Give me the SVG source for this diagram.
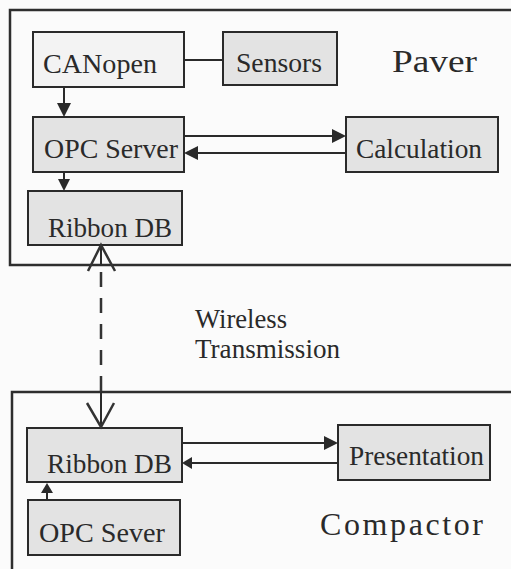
<svg xmlns="http://www.w3.org/2000/svg" width="511" height="569" viewBox="0 0 511 569">
<style>
.frame{fill:none;stroke:#2e2e2e;stroke-width:2.5}
.box{fill:#e3e3e3;stroke:#2a2a2a;stroke-width:2}
.light{fill:#f3f3f3}
.ln{fill:none;stroke:#2a2a2a;stroke-width:2}
.head{fill:#2a2a2a;stroke:none}
.dash{fill:none;stroke:#333;stroke-width:2.5;stroke-dasharray:15 11}
.open{fill:none;stroke:#333;stroke-width:2.5}
</style>
<rect width="511" height="569" fill="#fbfbfb"/>
<g id="paver">
<path class="frame" d="M515,10 L10,10 L10,265 L515,265"/>
<text font-family="Liberation Serif, serif" font-size="31" fill="#2a2a2a" x="392" y="72" textLength="85" lengthAdjust="spacingAndGlyphs">Paver</text>
</g>
<g id="compactor">
<path class="frame" d="M515,392 L12,392 L12,575"/>
<text font-family="Liberation Serif, serif" font-size="32" fill="#2a2a2a" x="320" y="535" textLength="163" lengthAdjust="spacing">Compactor</text>
</g>
<g id="canopen">
<rect class="box light" x="33" y="32" width="151" height="55"/>
<text font-family="Liberation Serif, serif" font-size="28" fill="#2a2a2a" x="43" y="73" textLength="114" lengthAdjust="spacingAndGlyphs">CANopen</text>
</g>
<g id="sensors">
<rect class="box" x="223" y="32" width="114" height="53"/>
<text font-family="Liberation Serif, serif" font-size="28" fill="#2a2a2a" x="236" y="72" textLength="86" lengthAdjust="spacingAndGlyphs">Sensors</text>
</g>
<g id="opc-server">
<rect class="box" x="33" y="117" width="151" height="55"/>
<text font-family="Liberation Serif, serif" font-size="28" fill="#2a2a2a" x="44" y="158" textLength="134" lengthAdjust="spacingAndGlyphs">OPC Server</text>
</g>
<g id="calculation">
<rect class="box" x="346" y="117" width="152" height="55"/>
<text font-family="Liberation Serif, serif" font-size="28" fill="#2a2a2a" x="356" y="158" textLength="126" lengthAdjust="spacingAndGlyphs">Calculation</text>
</g>
<g id="ribbon-db-paver">
<rect class="box" x="28" y="191" width="154" height="54"/>
<text font-family="Liberation Serif, serif" font-size="28" fill="#2a2a2a" x="48" y="237" textLength="124" lengthAdjust="spacingAndGlyphs">Ribbon DB</text>
</g>
<g id="ribbon-db-compactor">
<rect class="box" x="27" y="428" width="155" height="54"/>
<text font-family="Liberation Serif, serif" font-size="28" fill="#2a2a2a" x="47" y="473" textLength="125" lengthAdjust="spacingAndGlyphs">Ribbon DB</text>
</g>
<g id="presentation">
<rect class="box" x="338" y="425" width="152" height="55"/>
<text font-family="Liberation Serif, serif" font-size="28" fill="#2a2a2a" x="349" y="465" textLength="135" lengthAdjust="spacingAndGlyphs">Presentation</text>
</g>
<g id="opc-sever">
<rect class="box" x="28" y="500" width="152" height="55"/>
<text font-family="Liberation Serif, serif" font-size="28" fill="#2a2a2a" x="39" y="542" textLength="126" lengthAdjust="spacingAndGlyphs">OPC Sever</text>
</g>
<g id="wireless-label">
<text font-family="Liberation Serif, serif" font-size="26.5" fill="#2a2a2a" x="195" y="328" textLength="92" lengthAdjust="spacingAndGlyphs">Wireless</text>
<text font-family="Liberation Serif, serif" font-size="26.5" fill="#2a2a2a" x="195" y="358" textLength="145" lengthAdjust="spacingAndGlyphs">Transmission</text>
</g>
<g id="connectors">
<line class="ln" x1="184" y1="60" x2="223" y2="60"/>
<line class="ln" x1="64" y1="87" x2="64" y2="104"/>
<polygon class="head" points="57,103 71,103 64,117"/>
<line class="ln" x1="184" y1="136" x2="334" y2="136"/>
<polygon class="head" points="332,129 346,136 332,143"/>
<line class="ln" x1="346" y1="153" x2="196" y2="153"/>
<polygon class="head" points="198,146 184,153 198,160"/>
<line class="ln" x1="64" y1="172" x2="64" y2="180"/>
<polygon class="head" points="58,179 70,179 64,191"/>
<line class="dash" x1="101" y1="272" x2="101" y2="392"/>
<line class="ln" x1="101" y1="246" x2="101" y2="266"/>
<polyline class="open" points="88,271 101,245 115,271"/>
<line class="ln" x1="101" y1="392" x2="101" y2="426"/>
<polyline class="open" points="87,403 101,427 114,403"/>
<line class="ln" x1="182" y1="443" x2="326" y2="443"/>
<polygon class="head" points="324,436 338,443 324,450"/>
<line class="ln" x1="338" y1="463" x2="190" y2="463"/>
<polygon class="head" points="192,457 182,463 192,469"/>
<line class="ln" x1="47" y1="500" x2="47" y2="492"/>
<polygon class="head" points="41,493 53,493 47,483"/>
</g>
</svg>
